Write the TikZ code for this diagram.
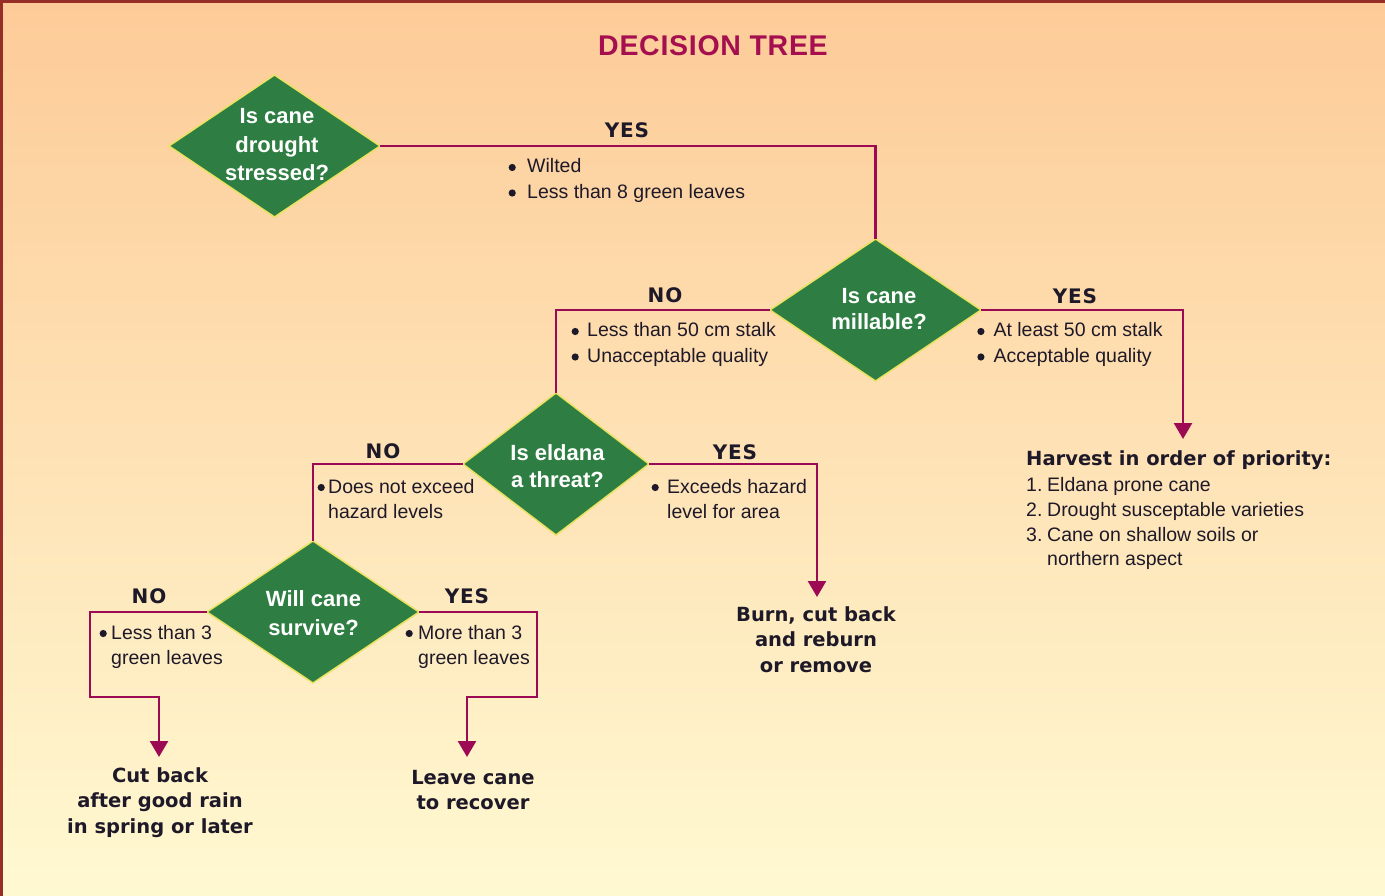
\documentclass[tikz,border=0pt]{standalone}
\usepackage{fontspec}
\setmainfont{Liberation Sans}
\newfontfamily\dv{DejaVu Sans}
\newfontfamily\dvsp{DejaVu Sans}[LetterSpace=4]
\newfontfamily\ttlfont{Liberation Sans}[LetterSpace=2.5]
\usetikzlibrary{shapes.geometric,arrows.meta}
\definecolor{bgtop}{RGB}{253,203,152}
\definecolor{bgbot}{RGB}{255,249,210}
\definecolor{framecol}{RGB}{150,45,38}
\definecolor{conncol}{RGB}{155,10,82}
\definecolor{ttl}{RGB}{165,15,80}
\definecolor{dgreen}{RGB}{46,125,66}
\definecolor{dedge}{RGB}{232,226,95}
\definecolor{ink}{RGB}{30,25,40}
\newcommand{\bul}{\tikz[baseline=0pt]\fill[ink] (0pt,5.5pt) circle[radius=3.6pt];}
\newcommand{\blk}[2]{\begin{tabular}[t]{@{}l@{\hspace{#1pt}}l@{}}#2\end{tabular}}
\newcommand{\ctr}[1]{\begin{tabular}[t]{@{}c@{}}#1\end{tabular}}
\begin{document}
\begin{tikzpicture}[x=1pt,y=-1pt,
  decision/.style={diamond, fill=dgreen, draw=dedge, line width=1.5pt, inner sep=0pt, outer sep=0pt, minimum width=#1, minimum height=142pt},
  dtext/.style={anchor=base, inner sep=0pt, text=white, font=\fontsize{22}{28}\selectfont\bfseries},
  bullets/.style={anchor=base west, inner sep=0pt, text=ink, font=\fontsize{19.5}{25.5}\selectfont},
  lab/.style={anchor=base, inner sep=0pt, text=ink, font=\dvsp\bfseries\fontsize{20}{24}\selectfont},
  outcome/.style={anchor=base, inner sep=0pt, text=ink, font=\dv\bfseries\fontsize{19.5}{25.5}\selectfont},
  conn/.style={draw=conncol, line width=2.6pt},
  arr/.style={conn, -{Triangle[length=16pt,width=18pt]}}
]
\useasboundingbox (0,0) rectangle (1385,896);
\shade[top color=bgtop, bottom color=bgbot] (0,0) rectangle (1385,896);
\fill[framecol] (0,0) rectangle (1385,3.5);
\fill[framecol] (0,0) rectangle (3,896);

\node[anchor=base, inner sep=0pt, text=ttl, font=\ttlfont\bfseries\fontsize{28.5}{32}\selectfont] (title) at (713,56) {DECISION TREE};

% decisions
\node[decision=211pt] (d1) at (274.5,146) {};
\node[decision=211pt] (d2) at (875.5,310) {};
\node[decision=186pt] (d3) at (556,464) {};
\node[decision=212pt] (d4) at (313,612) {};

\node[dtext] (d1t) at (277,124) {\ctr{Is cane\\[0.5pt]drought\\[0.5pt]stressed?}};
\node[dtext] (d2t) at (879,303) {\ctr{Is cane\\[-1pt]millable?}};
\node[dtext] (d3t) at (557.5,460) {\ctr{Is eldana\\[-1pt]a threat?}};
\node[dtext] (d4t) at (313.5,606) {\ctr{Will cane\\[1pt]survive?}};

% free ends
\coordinate (a1) at (1183,439);
\coordinate (a2) at (817,597);
\coordinate (k1) at (90,697);
\coordinate (a3) at (159,757);
\coordinate (k2) at (537,697);
\coordinate (a4) at (467,757);

% connectors
\draw[conn] (d1.east) -| (d2.north);
\draw[conn] (d2.west) -| (d3.north);
\draw[arr] (d2.east) -| (a1);
\draw[conn] (d3.west) -| (d4.north);
\draw[arr] (d3.east) -| (a2);
\draw[arr] (d4.west) -| (k1) -| (a3);
\draw[arr] (d4.east) -| (k2) -| (a4);

% YES / NO labels
\node[lab] (l1) at (627,138) {YES};
\node[lab] (l2) at (665,302) {NO};
\node[lab] (l3) at (1075,303) {YES};
\node[lab] (l4) at (383,458) {NO};
\node[lab] (l5) at (735,459) {YES};
\node[lab] (l6) at (149,603) {NO};
\node[lab] (l7) at (467,603) {YES};

% bullet lists
\node[bullets] (b1) at (508.4,173) {\blk{11.4}{\bul&Wilted\\\bul&Less than 8 green leaves}};
\node[bullets] (b2) at (571.4,337) {\blk{8.4}{\bul&Less than 50 cm stalk\\\bul&Unacceptable quality}};
\node[bullets] (b3) at (977.1,337) {\blk{9.0}{\bul&At least 50 cm stalk\\\bul&Acceptable quality}};
\node[bullets] (b4) at (317.4,493) {\blk{3.4}{\bul&Does not exceed\\&hazard levels}};
\node[bullets] (b5) at (651.4,493) {\blk{8.4}{\bul&Exceeds hazard\\&level for area}};
\node[bullets] (b6) at (99.4,639) {\blk{4.4}{\bul&Less than 3\\&green leaves}};
\node[bullets] (b7) at (405.4,639) {\blk{5.4}{\bul&More than 3\\&green leaves}};

% outcomes
\node[bullets, font=\fontsize{19.5}{24.7}\selectfont] (o1) at (1026,465) {\begin{tabular}[t]{@{}l@{\hspace{4.7pt}}l@{}}\multicolumn{2}{@{}l@{}}{\dv\bfseries Harvest in order of priority:}\\[2pt]
1.&Eldana prone cane\\
2.&Drought susceptable varieties\\
3.&Cane on shallow soils or\\
&northern aspect\end{tabular}};
\node[outcome] (o2) at (816,621) {\ctr{Burn, cut back\\and reburn\\or remove}};
\node[outcome] (o3) at (160,782) {\ctr{Cut back\\after good rain\\in spring or later}};
\node[outcome] (o4) at (473,784) {\ctr{Leave cane\\to recover}};
\end{tikzpicture}
\end{document}
